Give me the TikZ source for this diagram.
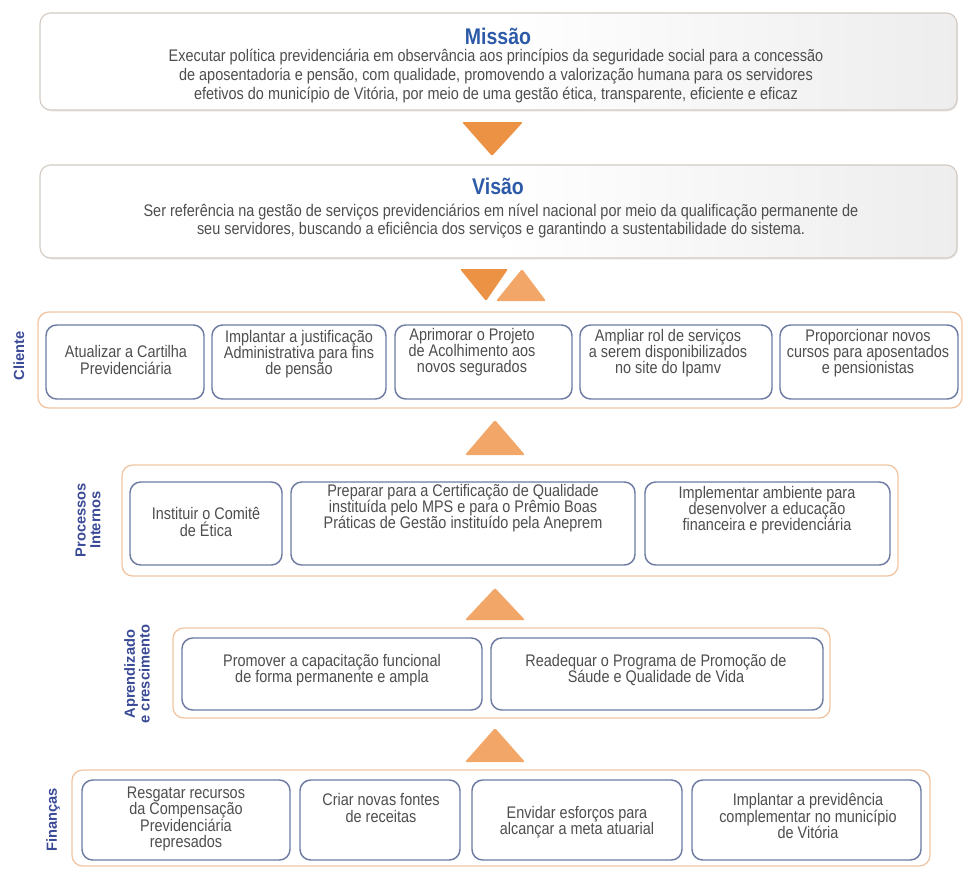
\documentclass[tikz,border=0pt]{standalone}
\usepackage{fontspec}
\setmainfont{Liberation Sans}[FakeStretch=0.86]
\newfontfamily\lblfont{Liberation Sans}
\usetikzlibrary{fit,shadows}
\definecolor{txt}{HTML}{4E4E4E}
\definecolor{ttl}{HTML}{2C5AA8}
\definecolor{lbl}{HTML}{3A4A96}
\definecolor{inb}{HTML}{6E7CA4}
\definecolor{outb}{HTML}{F0C6A4}
\definecolor{topb}{HTML}{D2CAC2}
\definecolor{triD}{HTML}{EC9245}
\definecolor{triU}{HTML}{F2A768}
\tikzset{
 topbox/.style={draw=topb, line width=0.8pt, rounded corners=8pt, left color=white, right color=black!7, middle color=white, inner sep=0pt,
   drop shadow={opacity=0.15, shadow xshift=0.8pt, shadow yshift=-1.2pt}},
 rowbox/.style={draw=outb, line width=1pt, rounded corners=8pt, fill=white, inner sep=0pt},
 inbox/.style={draw=inb, line width=1.1pt, rounded corners=8pt, fill=white, inner sep=0pt},
 intext/.style={text=txt, align=center, inner sep=0pt, font=\fontsize{12.6}{12.1}\selectfont},
 toptext/.style={text=txt, align=center, inner sep=0pt, font=\fontsize{12.6}{14}\selectfont},
 title/.style={text=ttl, inner sep=0pt, font=\bfseries\fontsize{17}{18}\selectfont},
 rowlabel/.style={rotate=90, text=lbl, align=center, inner sep=0pt, font=\lblfont\bfseries\fontsize{11}{11}\selectfont},
 tridown/.style={fill=triD, rounded corners=1pt},
 triup/.style={fill=triU, rounded corners=1pt}
}
\newcommand\bx[6]{\node[#1, fit={(#3,#4)(#5,#6)}] (#2) {};}
\newcommand\tx[4]{\node[intext] (#1) at (#2,#3) {#4};}
\begin{document}
\begin{tikzpicture}[x=0.75pt,y=-0.75pt]
\useasboundingbox (0,0) rectangle (963,868);
% Missao
\bx{topbox}{missao}{40}{13}{957}{110}
\node[title] (missaoT) at (498,36) {Missão};
\node[toptext] (missaoB) at (496,76) {Executar política previdenciária em observância aos princípios da seguridade social para a concessão\\de aposentadoria e pensão, com qualidade, promovendo a valorização humana para os servidores\\efetivos do município de Vitória, por meio de uma gestão ética, transparente, eficiente e eficaz};
\fill[tridown] (462,122) -- (523,122) -- (492,156) -- cycle;
% Visao
\bx{topbox}{visao}{40}{165}{957}{258}
\node[title] (visaoT) at (498,186) {Visão};
\node[toptext] (visaoB) at (501,221) {Ser referência na gestão de serviços previdenciários em nível nacional por meio da qualificação permanente de\\seu servidores, buscando a eficiência dos serviços e garantindo a sustentabilidade do sistema.};
\fill[tridown] (460,269) -- (508,269) -- (486,301) -- cycle;
\fill[triup] (496,301) -- (546,301) -- (522,269) -- cycle;
% Cliente
\bx{rowbox}{cliente}{38}{312}{962}{408}
\node[rowlabel] (clienteL) at (19,356) {Cliente};
\bx{inbox}{c1}{46}{325}{204}{399}
\bx{inbox}{c2}{212}{325}{386}{399}
\bx{inbox}{c3}{395}{325}{572}{399}
\bx{inbox}{c4}{580}{325}{772}{399}
\bx{inbox}{c5}{780}{325}{958}{399}
\tx{c1t}{126}{360}{Atualizar a Cartilha\\Previdenciária}
\tx{c2t}{299}{354}{Implantar a justificação\\Administrativa para fins\\de pensão}
\tx{c3t}{472}{352}{Aprimorar o Projeto\\de Acolhimento aos\\novos segurados}
\tx{c4t}{668}{353}{Ampliar rol de serviços\\a serem disponibilizados\\no site do Ipamv}
\tx{c5t}{868}{353}{Proporcionar novos\\cursos para aposentados\\e pensionistas}
\fill[triup] (465,455) -- (525,455) -- (495,420) -- cycle;
% Processos
\bx{rowbox}{proc}{122}{465}{898}{576}
\node[rowlabel] (procL) at (88,520) {Processos\\Internos};
\bx{inbox}{p1}{130}{482}{282}{565}
\bx{inbox}{p2}{291}{482}{635}{565}
\bx{inbox}{p3}{645}{482}{890}{565}
\tx{p1t}{206}{522}{Instituir o Comitê\\de Ética}
\tx{p2t}{463}{508}{Preparar para a Certificação de Qualidade\\instituída pelo MPS e para o Prêmio Boas\\Práticas de Gestão instituído pela Aneprem}
\tx{p3t}{767}{510}{Implementar ambiente para\\desenvolver a educação\\financeira e previdenciária}
\fill[triup] (465,620) -- (525,620) -- (495,588) -- cycle;
% Aprendizado
\bx{rowbox}{apr}{173}{628}{830}{718}
\node[rowlabel] (aprL) at (137,674) {Aprendizado\\e crescimento};
\bx{inbox}{a1}{182}{638}{482}{710}
\bx{inbox}{a2}{491}{638}{823}{710}
\tx{a1t}{332}{670}{Promover a capacitação funcional\\de forma permanente e ampla}
\tx{a2t}{656}{670}{Readequar o Programa de Promoção de\\Sáude e Qualidade de Vida}
\fill[triup] (465,762) -- (525,762) -- (495,728) -- cycle;
% Financas
\bx{rowbox}{fin}{72}{770}{930}{866}
\node[rowlabel] (finL) at (53,820) {Finanças};
\bx{inbox}{f1}{82}{780}{290}{860}
\bx{inbox}{f2}{300}{780}{460}{860}
\bx{inbox}{f3}{472}{780}{682}{860}
\bx{inbox}{f4}{692}{780}{921}{860}
\tx{f1t}{186}{819}{Resgatar recursos\\da Compensação\\Previdenciária\\represados}
\tx{f2t}{381}{808}{Criar novas fontes\\de receitas}
\tx{f3t}{577}{822}{Envidar esforços para\\alcançar a meta atuarial}
\tx{f4t}{808}{816}{Implantar a previdência\\complementar no município\\de Vitória}
\end{tikzpicture}
\end{document}
